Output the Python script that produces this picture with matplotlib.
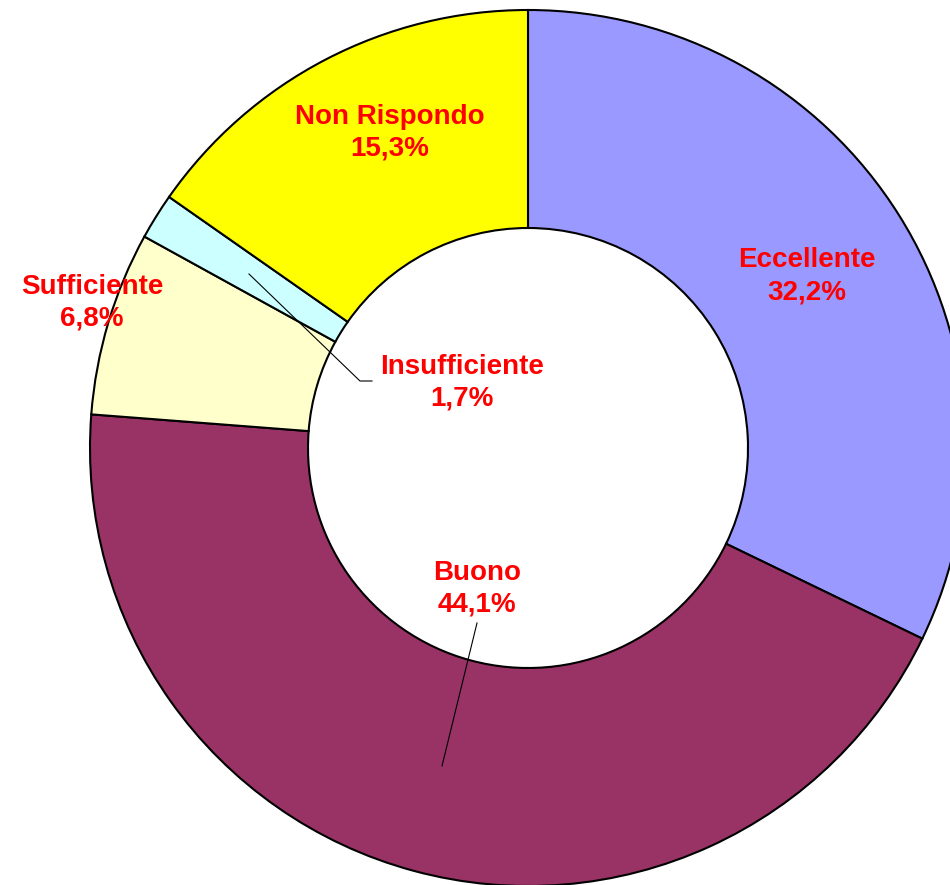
import matplotlib
matplotlib.use("Agg")
import matplotlib.pyplot as plt

categories = ["Eccellente", "Buono", "Sufficiente", "Insufficiente", "Non Rispondo"]
values = [32.2, 44.1, 6.8, 1.7, 15.3]
labels = ["32,2%", "44,1%", "6,8%", "1,7%", "15,3%"]
colors = ["#9999FF", "#993366", "#FFFFCC", "#CCFFFF", "#FFFF00"]

W, H = 950, 885
fig = plt.figure(figsize=(W / 100, H / 100), dpi=100)
ax = fig.add_axes([0, 0, 1, 1])

cx, cy, R = 528, H - 448, 438
ax.pie(values, colors=colors, startangle=90, counterclock=False,
       radius=R, center=(cx, cy),
       wedgeprops=dict(width=218, edgecolor="black", linewidth=1.5))
ax.set_xlim(0, W)
ax.set_ylim(0, H)
ax.set_aspect("equal")
ax.axis("off")

# label positions (pixel coordinates, y from top)
label_pos = {
    "Eccellente": (807, 276),
    "Buono": (477, 589),
    "Sufficiente": (92, 303),
    "Insufficiente": (462, 383),
    "Non Rispondo": (390, 133),
}
for cat, lab in zip(categories, labels):
    x, y = label_pos[cat]
    ax.text(x, H - y, f"{cat}\n{lab}", ha="center", va="center",
            fontsize=20, fontweight="bold", color="red",
            family=["Liberation Sans", "DejaVu Sans"], linespacing=1.3)

# leader lines
ax.plot([249, 360, 372], [H - 274, H - 381, H - 381], color="black", lw=0.8)
ax.plot([477, 442], [H - 623, H - 766], color="black", lw=0.8)

fig.savefig("out.png", dpi=100)
